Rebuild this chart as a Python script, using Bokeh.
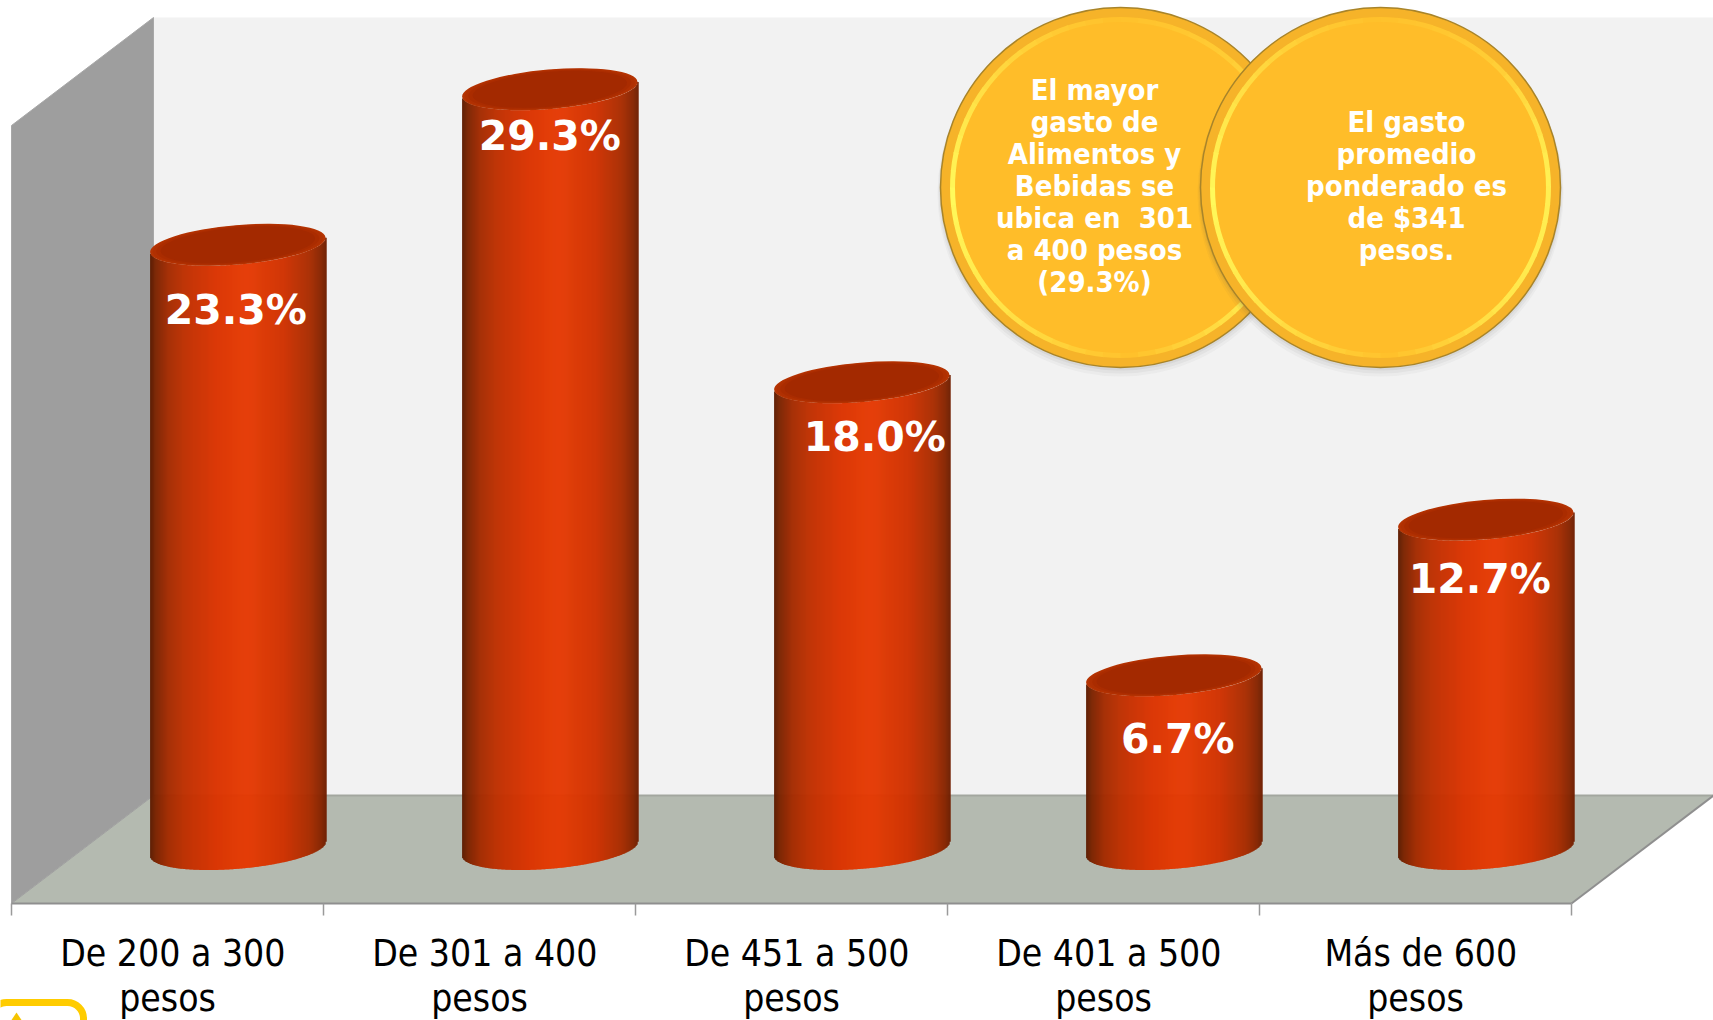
from bokeh.plotting import figure
from bokeh.embed import file_html
from bokeh.resources import INLINE
from bokeh.core.properties import value
from bokeh.models import FixedTicker, BoxAnnotation, Range1d
import numpy as np

# ---- data
categories = ["De 200 a 300", "De 301 a 400", "De 451 a 500", "De 401 a 500", "Más de 600"]
cat_second = "pesos"
values = [23.3, 29.3, 18.0, 6.7, 12.7]
value_labels = ["23.3%", "29.3%", "18.0%", "6.7%", "12.7%"]
note_left = ["El mayor", "gasto de", "Alimentos y", "Bebidas se", "ubica en\u00a0\u00a0301", "a 400 pesos", "(29.3%)"]
note_right = ["El gasto", "promedio", "ponderado es", "de $341", "pesos."]

# ---- layout: reference pixel <-> data scale
W, H = 1713, 1020
AX_Y = 903            # pixel row of the axis line
X0, PITCH = 11, 312   # first tick, pixels per category
Y0, PPU = 848.5, 25.93  # pixel row of 0 %, pixels per %
def dx(px): return (px - X0) / PITCH
def dy(py): return (Y0 - py) / PPU

p = figure(width=W, height=H, output_backend="svg", toolbar_location=None,
           x_range=Range1d(dx(0), dx(W)), y_range=Range1d(dy(H), dy(0)),
           min_border_left=0, min_border_right=0, min_border_top=0, min_border_bottom=0,
           outline_line_color=None, background_fill_color="white", border_fill_color="white")
p.grid.visible = False
p.yaxis.visible = False

# walls and floor
back_left, fl, top, back_fl = dx(153), dy(AX_Y), dy(17), dy(795)
DEPTH_X = back_left
p.patch([back_left, dx(1760), dx(1760), back_left], [back_fl, back_fl, top, top], fill_color="#f2f2f2", line_color=None)
p.patch([0, back_left, back_left, 0], [fl, back_fl, top, dy(125)], fill_color="#9e9e9e", line_color="#a8a8a8", line_width=1)
p.patch([0, DEPTH_X, 5 + DEPTH_X, 5], [fl, back_fl, back_fl, fl], fill_color="#b4bab0", line_color=None)
p.line([DEPTH_X, 5 + DEPTH_X], [back_fl] * 2, line_color="#a3a79f", line_width=2)
p.line([0, DEPTH_X], [fl, back_fl], line_color="#a0a0a0", line_width=1)
p.line([5, 5 + DEPTH_X], [fl, back_fl], line_color="#8f8f8f", line_width=2)

# axis: labels at centres, ticks at category boundaries
ax = p.xaxis[0]
centres = [i + 0.5 for i in range(len(categories))]
ax.fixed_location = fl
ax.ticker = FixedTicker(ticks=centres, minor_ticks=list(range(len(categories) + 1)))
ax.major_label_overrides = {c: "\u00a0" + n for c, n in zip(centres, categories)}
ax.bounds = (0, len(categories))
ax.axis_line_color = "#8f8f8f"; ax.axis_line_width = 2
ax.major_tick_line_color = None
ax.minor_tick_line_color = "#9a9a9a"; ax.minor_tick_line_width = 1.5
ax.minor_tick_out = 12; ax.minor_tick_in = 0
ax.major_label_text_font = "DejaVu Sans Condensed"
ax.major_label_text_font_size = "37px"
ax.major_label_text_color = "#000000"
ax.major_label_standoff = 16
ax.major_label_orientation = "horizontal"
p.text(x=centres, y=[dy(998)] * len(centres), text=[cat_second] * len(centres), text_align="center", text_baseline="middle",
       text_font=value("DejaVu Sans Condensed"), text_font_size="37px", text_color="#000000")

# cylinders
A, B, TH = 88.0, 19.7, np.radians(4.9)
BAR_SHIFT = 70.3 / PITCH
stops = [0, .03, .10, .20, .38, .55, .76, .91, .97, 1]
cols = [(0x5e, 0x1c, 0x00), (0x7c, 0x24, 0x00), (0xa4, 0x2b, 0x00), (0xc0, 0x30, 0x00), (0xdc, 0x34, 0x00),
        (0xe6, 0x3a, 0x04), (0xd0, 0x32, 0x00), (0xa8, 0x2c, 0x00), (0x88, 0x26, 0x00), (0x70, 0x1f, 0x00)]
t0 = np.arctan2(-B * np.sin(TH), A * np.cos(TH))
t = np.linspace(t0 - np.pi, t0, 800)
ex = A * np.cos(t) * np.cos(TH) - B * np.sin(t) * np.sin(TH)
ey = A * np.cos(t) * np.sin(TH) + B * np.sin(t) * np.cos(TH)
xmax = ex.max()
sx = np.arange(-xmax, xmax, 1.0)
low = np.interp(sx + .5, ex, ey)
frac = (sx + xmax) / (2 * xmax)
rgb = [np.interp(frac, stops, [c[k] for c in cols]) for k in range(3)]
strip_col = ["#%02x%02x%02x" % (int(r), int(g), int(b)) for r, g, b in zip(*rgb)]
for i, v in enumerate(values):
    cx = i + 0.5 + BAR_SHIFT
    p.quad(left=cx + sx / PITCH, right=cx + (sx + 1.6) / PITCH, bottom=low / PPU, top=v + low / PPU,
           fill_color=strip_col, line_color=None)
    for scale, col in [(1.0, "#b53403"), (.97, "#b03002"), (.93, "#aa2c00"), (.88, "#a32900")]:
        p.ellipse(x=[cx], y=[v], width=2 * A * scale, height=2 * B * scale, width_units="screen", height_units="screen",
                  angle=TH, fill_color=col, line_color=None)

# value labels
lab_dx = [-2, 0, 13, 4, -6]
lab_dy = [65, 47, 55, 64, 59]
p.text(x=[i + .5 + BAR_SHIFT for i in range(5)], y=values, text=value_labels,
       x_offset=lab_dx, y_offset=lab_dy, text_align="center", text_baseline="middle",
       text_color="#ffffff", text_font=value("DejaVu Sans"), text_font_style="bold", text_font_size="41px")

# coins
def coin(cx_px, cy_px, r):
    c = (dx(cx_px), dy(cy_px))
    for k, a in [(6, .04), (4, .06), (2, .08)]:
        p.scatter([c[0]], [dy(cy_px + k)], size=2 * r + k, marker="circle", fill_color="#555555", fill_alpha=a, line_color=None)
    p.scatter([c[0]], [c[1]], size=2 * r, marker="circle", fill_color="#f6b329", line_color="#a8842a", line_width=1.5)
    p.scatter([c[0]], [c[1]], size=2 * r - 26, marker="circle", fill_color="#ffbd29", line_color=None)
    deg = [0, 45, 90, 135, 180, 225, 270, 315, 360]
    bright = [.85, .25, .05, .45, 1, .6, .05, .7, .85]
    ang = np.arange(0, 360, 6)
    b = np.interp(ang, deg, bright)
    for a, s in zip(ang, b):
        col = "#%02x%02x%02x" % (int(255), int(190 + 60 * s), int(41 + 50 * s))
        p.arc([c[0]], [c[1]], radius=r - 12, radius_units="screen", start_angle=np.radians(a), end_angle=np.radians(a + 6.5),
              line_color=col, line_width=5)

coin(1120, 187, 180)
coin(1380, 187, 180)

def note(lines, cx_px, first_row):
    ys = [dy(first_row + 32 * k) for k in range(len(lines))]
    p.text(x=[dx(cx_px)] * len(lines), y=ys, text=lines, text_align="center", text_baseline="middle",
           text_color="#ffffff", text_font=value("DejaVu Sans Condensed"), text_font_style="bold", text_font_size="29px")
note(note_left, 1094, 89)
note(note_right, 1406, 121)

# corner badge
p.add_layout(BoxAnnotation(left=dx(-10), right=dx(83), top=dy(1002), bottom=dy(1060), fill_color=None,
                           line_color="#ffcc00", line_alpha=1, line_width=7, border_radius=16, level="overlay"))
p.patch([dx(8), dx(16), dx(24)], [dy(1024), dy(1012), dy(1024)], fill_color="#f5c400", line_color=None)

open("out.html", "w").write(file_html(p, INLINE))
